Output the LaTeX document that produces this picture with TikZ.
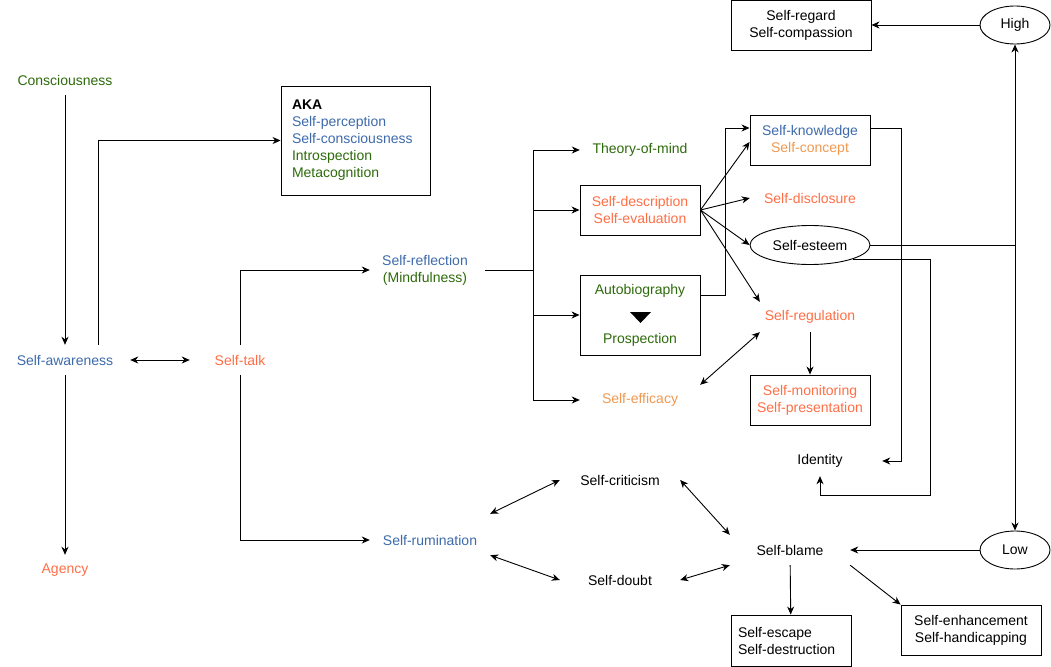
\documentclass[tikz,border=0pt]{standalone}
\usepackage{fontspec}
\setmainfont{Liberation Sans}
\usetikzlibrary{arrows.meta,shapes.geometric,calc}
\definecolor{cblue}{HTML}{3D6AAB}
\definecolor{cgreen}{HTML}{2D6A0A}
\definecolor{cred}{HTML}{FF6E45}
\definecolor{corange}{HTML}{F09850}
\begin{document}
\begin{tikzpicture}[x=1pt,y=-1pt,
  font=\fontsize{14}{17}\selectfont,
  lbl/.style={inner sep=0pt, minimum width=120pt, minimum height=30pt, align=center},
  box/.style={draw, line width=0.9pt, inner sep=0pt, align=center},
  oval/.style={draw, ellipse, line width=0.9pt, inner sep=0pt},
  tip/.tip={Stealth[length=8pt,width=7pt,inset=2.5pt]},
  conn/.style={line width=0.9pt, -tip},
  both/.style={line width=0.9pt, tip-tip},
  plain/.style={line width=0.9pt}
]
\useasboundingbox (0,0) rectangle (1051,666);

% nodes
\node[lbl, text=cgreen] (con) at (65,80) {Consciousness};
\node[lbl, minimum width=130pt, text=cblue] (sa) at (65,360) {Self-awareness};
\node[lbl, text=cred] (ag) at (65,570) {Agency};
\node[box, align=left, text width=127pt, inner xsep=11pt, minimum height=109pt] (aka) at (355.5,140.5)
  {\textbf{AKA}\\\textcolor{cblue}{Self-perception}\\\textcolor{cblue}{Self-consciousness}\\\textcolor{cgreen}{Introspection}\\\textcolor{cgreen}{Metacognition}};
\node[lbl, minimum width=100pt, text=cred] (st) at (240,360) {Self-talk};
\node[lbl, minimum width=110pt, minimum height=34pt] (sr) at (425,270) {\textcolor{cblue}{Self-reflection}\\\textcolor{cgreen}{(Mindfulness)}};
\node[lbl, text=cblue] (srum) at (430,540) {Self-rumination};
\coordinate (bus) at (533,270);
\node[lbl, text=cgreen] (tom) at (640,150) {Theory-of-mind};
\node[box, minimum width=120pt, minimum height=50pt, text=cred] (sd) at (640,210) {Self-description\\Self-evaluation};
\node[box, minimum width=120pt, minimum height=80pt] (ab) at (640,315) {};
\node[text=cgreen, inner sep=0pt] (abt) at (640,291) {Autobiography};
\node[text=cgreen, inner sep=0pt] (pro) at (640,340) {Prospection};
\fill (630,312) -- (651,312) -- (640.5,323) -- cycle;
\node[lbl, text=corange] (seff) at (640,400) {Self-efficacy};
\node[box, minimum width=120pt, minimum height=50pt] (sk) at (810,140) {\textcolor{cblue}{Self-knowledge}\\\textcolor{corange}{Self-concept}};
\node[lbl, text=cred] (sdis) at (810,198) {Self-disclosure};
\node[oval, minimum width=120pt, minimum height=39pt] (se) at (810,245) {Self-esteem};
\node[lbl, minimum width=100pt, text=cred] (sreg) at (810,317) {Self-regulation};
\node[box, minimum width=120pt, minimum height=50pt, text=cred] (smon) at (810,400) {Self-monitoring\\Self-presentation};
\node[lbl, minimum width=124pt] (id) at (820,461) {Identity};
\node[oval, minimum width=70pt, minimum height=38pt] (high) at (1015,25) {High};
\node[oval, minimum width=70pt, minimum height=38pt] (low) at (1015,550) {Low};
\node[box, minimum width=140pt, minimum height=50pt] (srg) at (801,25) {Self-regard\\Self-compassion};
\node[lbl] (scrit) at (620,480) {Self-criticism};
\node[lbl] (sdoubt) at (620,580) {Self-doubt};
\node[lbl] (sb) at (790,550) {Self-blame};
\node[box, align=left, text width=106pt, inner xsep=7pt, minimum height=51pt] (esc) at (791,640.5) {Self-escape\\Self-destruction};
\node[box, minimum width=140pt, minimum height=50pt] (enh) at (971,630) {Self-enhancement\\Self-handicapping};

% connectors
\draw[conn] (con) -- (sa);
\draw[conn] ([xshift=33pt]sa.north) |- (aka.west);
\draw[both] (sa.east) -- (st.west);
\draw[conn] (sa) -- (ag);
\draw[conn] (st.north) |- (sr.west);
\draw[conn] (st.south) |- (srum.west);
\draw[plain] ([xshift=5pt]sr.east) -- (bus);
\draw[conn] (bus) |- (tom.west);
\draw[conn] (bus) |- (sd.west);
\draw[conn] (bus) |- (ab.west);
\draw[conn] (bus) |- (seff.west);
\draw[conn] ([yshift=20pt]ab.east) -- ++(25,0) |- ([yshift=12pt]sk.west);
\draw[conn] (sd.east) -- ([yshift=-2pt]sk.west);
\draw[conn] (sd.east) -- (sdis.west);
\draw[conn] (sd.east) -- (se.west);
\draw[conn] (sd.east) -- (sreg.north west);
\draw[both] (seff.north east) -- (sreg.south west);
\draw[conn] (sreg) -- (smon);
\draw[conn] ([yshift=12pt]sk.east) -- ++(31,0) |- (id.east);
\draw[plain] (se.east) -- (se.east -| high.south);
\draw[both] (high.south) -- (low.north);
\draw[conn] (se.south east) -- ++(78,0) -- ++(0,236) -| (id.south);
\draw[conn] (high.west) -- (srg.east);
\draw[conn] (low.west) -- (sb.east);
\draw[conn] (sb) -- (esc);
\draw[conn] (sb.south east) -- (enh.north west);
\draw[both] ([yshift=11pt]srum.north east) -- (scrit.west);
\draw[both] (srum.south east) -- (sdoubt.west);
\draw[both] (scrit.east) -- (sb.north west);
\draw[both] (sdoubt.east) -- (sb.south west);
\end{tikzpicture}
\end{document}
